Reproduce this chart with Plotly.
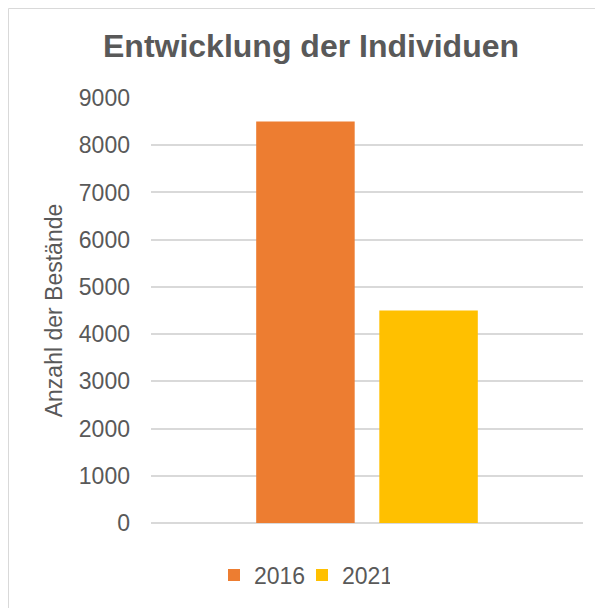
import plotly.graph_objects as go

categories = [""]
years = ["2016", "2021"]
values_2016 = [8500]
values_2021 = [4500]
colors = ["#ED7D31", "#FFC000"]
y_ticks = [0, 1000, 2000, 3000, 4000, 5000, 6000, 7000, 8000, 9000]

FONT = "Liberation Sans, Arial, sans-serif"
GREY = "#595959"

fig = go.Figure()
for name, vals, col in zip(years, [values_2016, values_2021], colors):
    fig.add_trace(go.Bar(x=categories, y=vals, name=name, marker=dict(color=col, line=dict(width=0))))

OFF = 8  # page body margin
W, H = 603 - OFF, 608 - OFF
L, R, T, B = 151 - OFF, 20, 98 - OFF, 85
pw, ph = W - L - R, H - T - B

def px2x(px):
    return (px - OFF - L) / pw

def py2y(py):
    return (H - B - (py - OFF)) / ph

fig.update_layout(
    width=W, height=H,
    margin=dict(l=L, r=R, t=T, b=B, autoexpand=False),
    paper_bgcolor="white", plot_bgcolor="white",
    font=dict(family=FONT, color=GREY, size=23),
    title=dict(text="<b>Entwicklung der Individuen</b>", x=(311 - OFF) / W, xref="container", xanchor="center",
               y=1 - (46 - OFF) / H, yref="container", yanchor="middle",
               font=dict(family=FONT, size=32, color=GREY)),
    barmode="group", bargap=0.43, bargroupgap=0.2,
    showlegend=True,
    legend=dict(orientation="h", x=px2x(214), xanchor="left", y=py2y(575), yanchor="middle",
                font=dict(family=FONT, size=23, color=GREY), traceorder="normal",
                entrywidth=43, entrywidthmode="pixels", bgcolor="rgba(0,0,0,0)"),
    xaxis=dict(showticklabels=False, showgrid=False, zeroline=False, showline=False, ticks="",
               range=[-0.5, 0.5], fixedrange=True),
    yaxis=dict(range=[0, 9000], tickvals=y_ticks, ticktext=[str(v) for v in y_ticks],
               showgrid=True, gridcolor="#D9D9D9", gridwidth=1.5, zeroline=True, zerolinecolor="#D9D9D9",
               zerolinewidth=1.5, showline=False, ticks="", ticklabelstandoff=20,
               tickfont=dict(family=FONT, size=23, color=GREY),
               title=dict(text="Anzahl der Bestände", standoff=9,
                          font=dict(family=FONT, size=23, color=GREY)),
               automargin=False),
    shapes=[dict(type="rect", xref="paper", yref="paper",
                 x0=px2x(8.5), x1=px2x(640), y0=py2y(640), y1=py2y(8.5),
                 line=dict(color="#D9D9D9", width=1), fillcolor="rgba(0,0,0,0)", layer="below")],
)

fig.write_html("out.html")
